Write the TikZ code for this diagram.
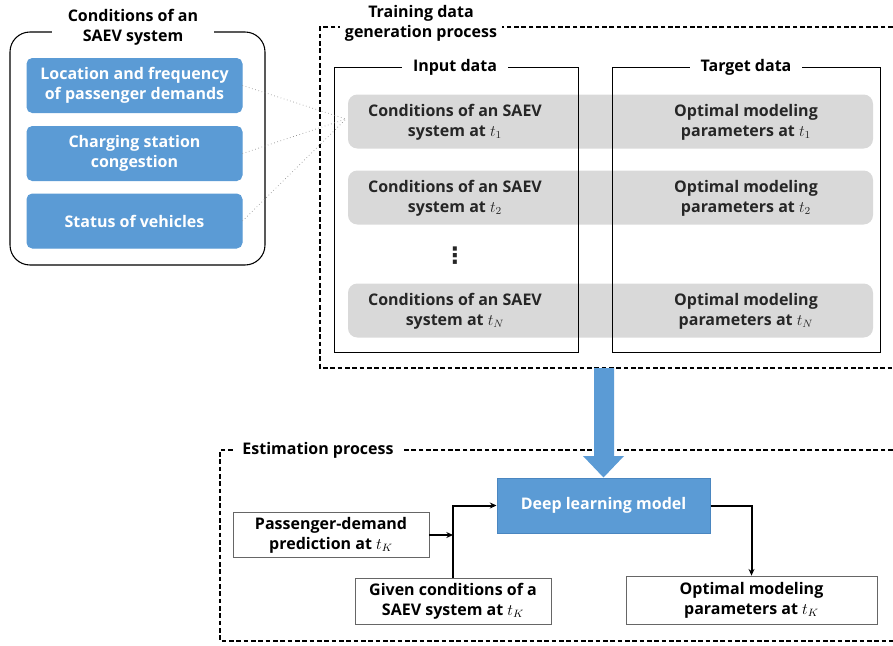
\documentclass[tikz,border=0pt]{standalone}
\usepackage{fontspec}
\setmainfont{Open Sans}
\newfontfamily\symbolfont{DejaVu Sans}
\usetikzlibrary{arrows.meta}
\definecolor{saevblue}{HTML}{5B9BD5}
\definecolor{saevedge}{HTML}{4A86C0}
\definecolor{bargray}{HTML}{D9D9D9}
\newcommand{\labelfont}{\fontsize{12}{15}\selectfont\bfseries}
\tikzset{every picture/.style={line width=0.75pt},
  bluebox/.style={fill=saevblue, draw=saevblue, rounded corners=4pt, text=white, align=center, font=\labelfont, minimum width=161.25pt, minimum height=40.5pt},
  graybar/.style={fill=bargray, draw=none, rounded corners=7pt, minimum width=393.75pt, minimum height=40.5pt},
  celltext/.style={align=center, font=\labelfont, inner sep=0pt, text=black!85},
  frametitle/.style={fill=white, align=center, font=\labelfont, inner ysep=1pt},
  whitebox/.style={draw=black!60, fill=white, align=center, font=\labelfont, line width=0.6pt},
  dashbox/.style={line width=1.1pt, dash pattern=on 3.5pt off 2pt},
  dotlink/.style={draw=black!45, dotted, line width=0.5pt},
  link/.style={line width=1.5pt, -{Stealth[length=5pt,width=4.5pt]}}
}

\begin{document}
\begin{tikzpicture}[x=0.75pt,y=0.75pt,yscale=-1,xscale=1]
	\useasboundingbox (0,0) rectangle (893,646);
	\clip (0,0) rectangle (893,646);

	% conditions of an SAEV system
	\draw [line width=0.8pt, rounded corners=15pt] (10,32) rectangle (265,265);
	\node [frametitle, inner xsep=12pt] (condtitle) at (133,27) {Conditions of an\\SAEV system};
	\node [bluebox] (loc) at (134.5,85.5) {Location and frequency\\of passenger demands};
	\node [bluebox] (chg) at (134.5,153.5) {Charging station\\congestion};
	\node [bluebox] (veh) at (134.5,221) {Status of vehicles};

	% training data generation process
	\draw [dashbox] (900,27) -- (320,27) -- (320,368) -- (900,368);
	\node [frametitle, inner xsep=4pt] (traintitle) at (421,23) {Training data\\generation process};

	\node [graybar] (bar1) at (610.5,121.5) {};
	\node [graybar] (bar2) at (610.5,197.5) {};
	\node [graybar] (bar3) at (610.5,310.5) {};

	\draw [line width=0.6pt] (334,67) rectangle (578,352);
	\draw [line width=0.6pt] (612,67) rectangle (880,352);
	\node [frametitle, inner xsep=8pt] (intitle) at (455,67) {Input data};
	\node [frametitle, inner xsep=8pt] (outtitle) at (746,67) {Target data};

	\node [celltext] (in1) at (455,122) {Conditions of an SAEV\\system at $t_1$};
	\node [celltext] (out1) at (746,122) {Optimal modeling\\parameters at $t_1$};
	\node [celltext] (in2) at (455,198) {Conditions of an SAEV\\system at $t_2$};
	\node [celltext] (out2) at (746,198) {Optimal modeling\\parameters at $t_2$};
	\node [celltext, font=\symbolfont\fontsize{17}{17}\selectfont\bfseries] (dots) at (455,256) {⋮};
	\node [celltext] (in3) at (455,311) {Conditions of an SAEV\\system at $t_N$};
	\node [celltext] (out3) at (746,311) {Optimal modeling\\parameters at $t_N$};

	\coordinate (hub) at (346,119);
	\draw [dotlink] (loc.east) -- (hub);
	\draw [dotlink] (chg.east) -- (hub);
	\draw [dotlink] (veh.east) -- (hub);

	% estimation process
	\draw [dashbox] (900,450) -- (220,450) -- (220,641) -- (900,641);
	\node [fill=white, font=\labelfont, inner xsep=6pt] (esttitle) at (318,450) {Estimation process};

	\node [bluebox, rounded corners=0pt, draw=saevedge, minimum width=159.75pt, minimum height=41.25pt] (dl) at (603.5,505.5) {Deep learning model};
	\node [whitebox, minimum width=147pt, minimum height=33pt] (pass) at (331,535) {Passenger-demand\\prediction at $t_K$};
	\node [whitebox, minimum width=147pt, minimum height=34.5pt] (given) at (453,601) {Given conditions of a\\SAEV system at $t_K$};
	\node [whitebox, minimum width=188.25pt, minimum height=36pt] (opt) at (751.5,600) {Optimal modeling\\parameters at $t_K$};

	\draw [link] (given.north) |- (dl.west);
	\draw [link] (pass.east) -- (pass.east -| given.north);
	\draw [link] (dl.east) -| (opt.north);

	% blue arrow between the processes
	\fill [saevblue] (594,368) -- (594,456) -- (583,456) -- (dl.north) -- (624,456) -- (614,456) -- (614,368) -- cycle;
\end{tikzpicture}
\end{document}
